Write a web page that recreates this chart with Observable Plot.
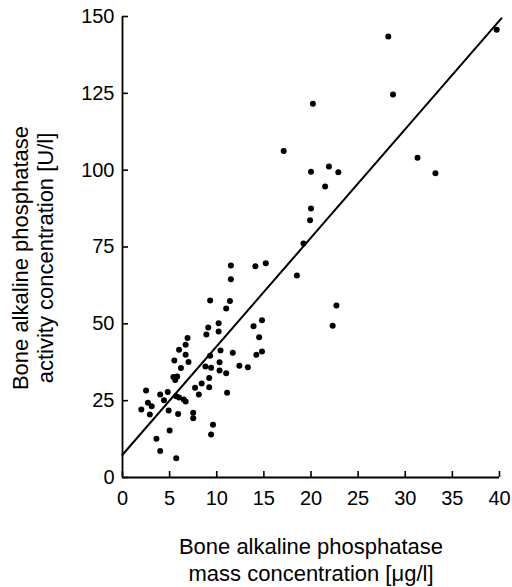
<!DOCTYPE html>
<html><head><meta charset="utf-8">
<script src="https://cdn.jsdelivr.net/npm/d3@7"></script>
<script src="https://cdn.jsdelivr.net/npm/@observablehq/plot@0.6"></script>
<style>body{margin:0;background:#fff} svg{display:block}</style>
</head><body><div id="chart"></div>
<script>
// Bone ALP mass concentration (µg/l)
const massX = [17.1, 20.2, 28.2, 39.7, 28.7, 31.3, 33.2, 20.0, 21.9, 22.9,
  21.5, 20.0, 19.9, 19.2, 18.5, 22.7, 22.3, 15.2, 14.1, 11.5,
  11.5, 11.4, 11.0, 9.3, 9.1, 8.9, 10.2, 10.2, 13.9, 14.8,
  14.5, 6.9, 6.7, 6.0, 6.7, 5.5, 7.0, 6.2, 5.4, 5.6,
  10.4, 9.3, 11.7, 14.2, 14.8, 8.8, 9.4, 10.3, 10.3, 11.0,
  12.4, 13.3, 9.2, 8.4, 9.2, 7.7, 8.1, 11.1, 9.6, 9.4,
  2.5, 4.0, 4.8, 4.4, 2.7, 3.1, 2.0, 2.9, 4.9, 5.9,
  7.5, 7.5, 5.0, 3.6, 4.0, 5.7, 5.7, 6.0, 6.5, 6.7, 5.8];
// Bone ALP activity concentration (U/l)
const activityY = [106.2, 121.6, 143.5, 145.7, 124.6, 104.0, 99.0, 99.5, 101.2, 99.3,
  94.7, 87.5, 83.7, 76.1, 65.7, 56.0, 49.4, 69.7, 68.7, 69.0,
  64.5, 57.4, 55.0, 57.6, 48.8, 46.5, 50.2, 47.5, 49.2, 51.2,
  45.6, 45.4, 43.2, 41.6, 39.9, 38.1, 37.6, 35.6, 32.7, 31.7,
  41.3, 39.6, 40.6, 39.9, 41.0, 36.1, 35.7, 37.5, 34.8, 33.9,
  36.4, 35.9, 32.4, 30.6, 29.4, 29.2, 27.0, 27.6, 17.2, 14.0,
  28.3, 27.0, 27.8, 25.1, 24.3, 23.2, 22.1, 20.5, 21.8, 20.7,
  21.1, 19.3, 15.3, 12.6, 8.6, 6.3, 26.4, 26.0, 25.4, 24.7, 32.9];
// regression line end points
const fitX = [0, 40.2];
const fitY = [7.4, 149.4];
const xTicks = [0, 5, 10, 15, 20, 25, 30, 35, 40];
const yTicks = [0, 25, 50, 75, 100, 125, 150];
const xTitle = ["Bone alkaline phosphatase", "mass concentration [μg/l]"];
const yTitle = ["Bone alkaline phosphatase", "activity concentration [U/l]"];

const points = massX.map((x, i) => ({x, y: activityY[i]}));
const fit = fitX.map((x, i) => ({x, y: fitY[i]}));

const chart = Plot.plot({
  width: 512, height: 587,
  marginLeft: 122, marginRight: 13, marginTop: 16, marginBottom: 110,
  x: {domain: [0, 40]},
  y: {domain: [0, 150]},
  style: {fontFamily: "'Liberation Sans', Arial, sans-serif", background: "white", color: "black"},
  marks: [
    Plot.ruleX([0], {stroke: "black", strokeWidth: 1.8}),
    Plot.ruleY([0], {stroke: "black", strokeWidth: 1.8}),
    Plot.axisX({ticks: xTicks, tickSize: -6, tickPadding: 19, fontSize: 20, strokeWidth: 1.6, label: null, tickFormat: d => d}),
    Plot.axisY({ticks: yTicks, tickSize: -6, tickPadding: 14, fontSize: 20, strokeWidth: 1.6, label: null, tickFormat: d => d}),
    Plot.line(fit, {x: "x", y: "y", stroke: "black", strokeWidth: 2}),
    Plot.dot(points, {x: "x", y: "y", r: 3, fill: "black", stroke: "none"}),
    Plot.text([xTitle[0]], {text: d => d, frameAnchor: "bottom", dy: 69, fontSize: 22, lineAnchor: "middle"}),
    Plot.text([xTitle[1]], {text: d => d, frameAnchor: "bottom", dy: 96, fontSize: 22, lineAnchor: "middle"}),
    Plot.text([yTitle[0]], {text: d => d, frameAnchor: "left", dx: -102, dy: 11, rotate: -90, fontSize: 22, textAnchor: "middle", lineAnchor: "middle"}),
    Plot.text([yTitle[1]], {text: d => d, frameAnchor: "left", dx: -77, dy: 11, rotate: -90, fontSize: 22, textAnchor: "middle", lineAnchor: "middle"})
  ]
});
document.getElementById("chart").append(chart);
</script>
</body></html>
